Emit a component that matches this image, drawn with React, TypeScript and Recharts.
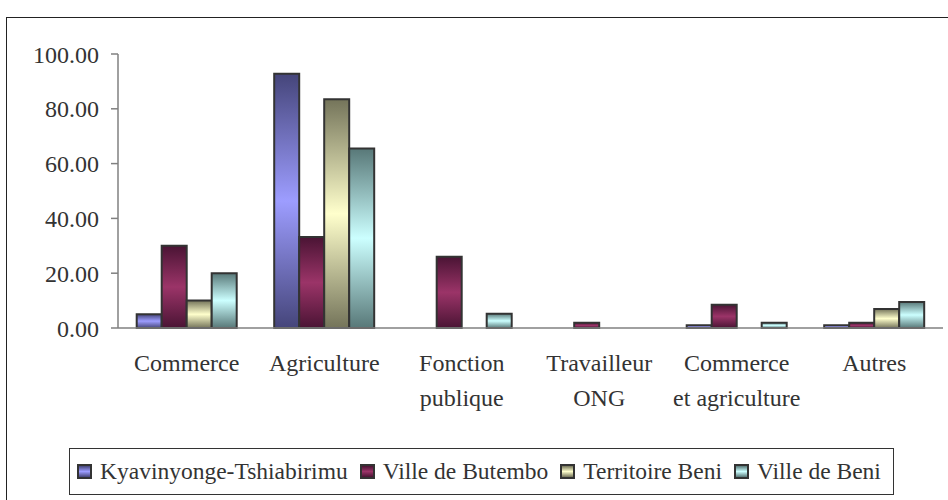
import React from 'react';
import { BarChart, Bar, XAxis, YAxis, Legend } from 'recharts';

const categories = ['Commerce', 'Agriculture', 'Fonction publique', 'Travailleur ONG', 'Commerce et agriculture', 'Autres'];
const tickLines = [['Commerce'], ['Agriculture'], ['Fonction', 'publique'], ['Travailleur', 'ONG'], ['Commerce', 'et agriculture'], ['Autres']];
const kyavinyonge = [5, 92.8, 0, 0, 1, 1];
const butembo = [30, 33.2, 26, 1.9, 8.5, 1.9];
const territoireBeni = [10, 83.5, 0, 0, 0, 6.9];
const villeBeni = [20, 65.5, 5.2, 0, 1.9, 9.5];
const yTicks = [0, 20, 40, 60, 80, 100];
const boundaryTicks = [0, 1, 2, 3, 4, 5, 6];

const series = [
  { key: 'k', name: 'Kyavinyonge-Tshiabirimu', values: kyavinyonge, dark: '#45457a', light: '#9d9dff' },
  { key: 'b', name: 'Ville de Butembo', values: butembo, dark: '#4a1434', light: '#9b3468' },
  { key: 't', name: 'Territoire Beni', values: territoireBeni, dark: '#74745a', light: '#ffffcc' },
  { key: 'v', name: 'Ville de Beni', values: villeBeni, dark: '#587878', light: '#ccffff' },
];

const data = categories.map((c, i) => {
  const row: any = { name: c, idx: i };
  series.forEach((s) => { row[s.key] = s.values[i]; });
  return row;
});

const FONT = "'Liberation Serif', 'Times New Roman', serif";
const TEXT = '#333333';

const CatTick = (props: any) => {
  const { x, y, index } = props;
  const lines = tickLines[index] || [];
  return (
    <text x={x} y={y} textAnchor="middle" fill={TEXT} fontSize={24} fontFamily={FONT} style={{ fontFamily: FONT }}>
      {lines.map((l, i) => (
        <tspan key={i} x={x} dy={i === 0 ? 43 : 35}>{l}</tspan>
      ))}
    </text>
  );
};

const LegendContent = () => (
  <div style={{ display: 'flex', alignItems: 'center', height: '100%', paddingLeft: 7, fontFamily: FONT, fontSize: 23.5, color: TEXT, whiteSpace: 'nowrap' }}>
    {series.map((s) => (
      <div key={s.key} style={{ display: 'flex', alignItems: 'center', marginRight: 12 }}>
        <div style={{ width: 11, height: 11, border: '2px solid #333', background: `linear-gradient(${s.dark}, ${s.light} 50%, ${s.dark})`, marginRight: 8 }} />
        <span style={{ fontFamily: FONT }}>{s.name}</span>
      </div>
    ))}
  </div>
);

export default function App() {
  return (
    <div style={{ position: 'fixed', left: 0, top: 0, width: 948, height: 500, overflow: 'hidden', background: '#fff', fontFamily: FONT }}>
      <div style={{ position: 'absolute', left: 6, top: 17, width: 1000, height: 600, border: '1px solid #222' }} />
      <div style={{ position: 'absolute', left: 0, top: 0 }}>
        <BarChart
          width={948}
          height={500}
          data={data}
          margin={{ top: 54, right: 5, left: 0, bottom: 170 }}
          barCategoryGap="13.6%"
          barGap={0}
          style={{ fontFamily: FONT }}
        >
          <defs>
            {series.map((s) => (
              <linearGradient key={s.key} id={`grad-${s.key}`} x1="0" y1="0" x2="0" y2="1">
                <stop offset="0%" stopColor={s.dark} />
                <stop offset="50%" stopColor={s.light} />
                <stop offset="100%" stopColor={s.dark} />
              </linearGradient>
            ))}
          </defs>
          <YAxis
            width={118}
            domain={[0, 100]}
            ticks={yTicks}
            tickFormatter={(v: number) => v.toFixed(2)}
            tick={{ fill: TEXT, fontSize: 24, fontFamily: FONT }}
            tickSize={7}
            tickMargin={12}
            axisLine={{ stroke: '#808080', strokeWidth: 1.5 }}
            tickLine={{ stroke: '#808080', strokeWidth: 1.5 }}
            interval={0}
          />
          <XAxis
            dataKey="name"
            height={1}
            tick={<CatTick />}
            tickLine={false}
            tickSize={0}
            tickMargin={0}
            interval={0}
            axisLine={{ stroke: '#808080', strokeWidth: 1.5 }}
          />
          <XAxis
            xAxisId="bounds"
            type="number"
            domain={[0, 6]}
            ticks={boundaryTicks}
            allowDataOverflow
            height={1}
            tick={false}
            tickSize={7}
            axisLine={false}
            tickLine={{ stroke: '#808080', strokeWidth: 1.5 }}
            interval={0}
          />
          {series.map((s) => (
            <Bar
              key={s.key}
              dataKey={s.key}
              name={s.name}
              fill={`url(#grad-${s.key})`}
              stroke="#333"
              strokeWidth={2}
              isAnimationActive={false}
            />
          ))}
          <Legend
            layout="horizontal"
            verticalAlign="middle"
            align="center"
            content={<LegendContent />}
            wrapperStyle={{ left: 69, top: 448, width: 825, height: 47, border: '1px solid #333', boxSizing: 'border-box', background: '#fff' }}
          />
        </BarChart>
      </div>
    </div>
  );
}
